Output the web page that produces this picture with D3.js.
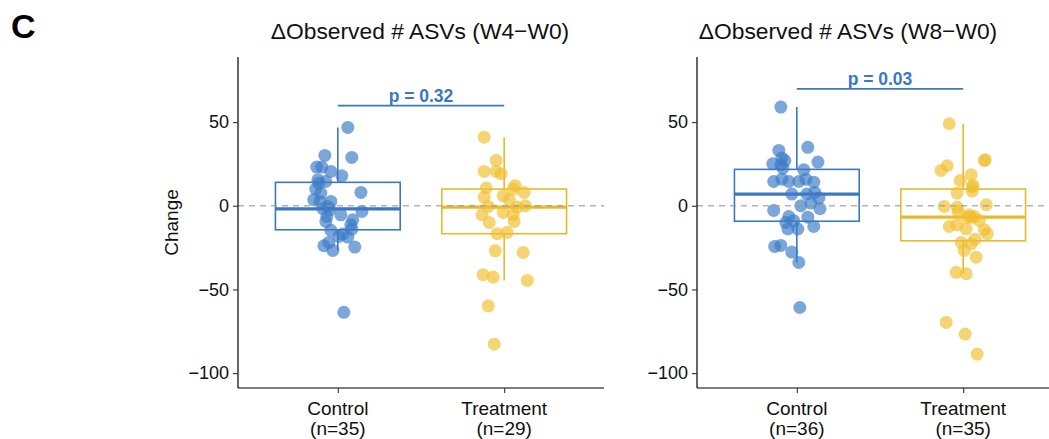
<!DOCTYPE html>
<html><head><meta charset="utf-8">
<script src="https://cdn.jsdelivr.net/npm/d3@7"></script>
<style>body{margin:0;background:#fff} svg{display:block}</style>
</head><body><svg id="c" width="1049" height="439"></svg>
<script>
// ---------- data ----------
const categories = ["Control", "Treatment"];
const panelTitles = ["\u0394Observed # ASVs (W4\u2212W0)", "\u0394Observed # ASVs (W8\u2212W0)"];
const nLabels = [["(n=35)", "(n=29)"], ["(n=36)", "(n=35)"]];
const pLabels = ["p = 0.32", "p = 0.03"];
const pBarValues = [59.8, 69.8];
const yTicks = [-100, -50, 0, 50];
const yDomain = [-108.9, 88.9];

// W4-W0
const w4Control = [-63.7,-26.7,-24.7,-23.9,-21.9,-18.7,-18.3,-16.9,-14.7,-14.0,-11.4,-9.4,-8.4,-6.4,-5.4,-3.4,-2.4,-1.8,-0.4,2.6,2.6,3.6,7.6,8.0,10.0,13.5,14.5,15.5,17.9,20.5,23.1,23.1,28.9,30.1,46.8];
const w4ControlJitter = [0.036,-0.030,0.102,-0.084,-0.054,0.060,0.006,0.030,-0.042,0.084,0.078,-0.072,0.090,-0.066,0.018,0.145,-0.048,-0.090,-0.060,-0.042,-0.108,-0.145,-0.102,0.139,-0.133,-0.114,-0.072,-0.120,0.024,-0.042,-0.127,-0.096,0.084,-0.078,0.060];
const w4Treatment = [41.0,27.1,20.5,20.5,19.1,12.0,10.6,8.0,10.0,5.2,6.0,3.6,0,-0.4,-0.8,-4.0,-5.4,-5.4,-10.0,-9.4,-16.7,-15.9,-26.9,-27.9,-41.2,-42.6,-44.6,-59.8,-82.7];
const w4TreatmentJitter = [-0.120,-0.048,-0.120,-0.048,-0.018,0.066,-0.108,0.120,0.054,-0.120,-0.006,0.030,0.127,-0.096,0.078,-0.006,-0.133,0.054,-0.090,0.060,-0.042,0.018,-0.054,0.114,-0.127,-0.066,0.139,-0.096,-0.060];

// W8-W0
const w8Control = [59.0,34.9,33.1,28.5,26.1,25.1,24.5,21.5,14.5,15.9,14.5,14.5,15.9,14.1,7.0,4.6,0,1.6,-2.8,-1.8,-6.4,-6.8,-10.0,-12.4,-13.9,-13.9,-23.7,-24.3,-27.7,-33.9,-60.8,-9.0,7.0,8.0,22.5,27.0];
const w8ControlJitter = [-0.096,0.066,-0.108,-0.090,0.127,-0.145,-0.096,0.042,-0.139,-0.090,-0.048,0.012,0.054,0.102,-0.030,0.133,0.024,0.084,-0.139,0.139,-0.048,0.066,-0.066,0.102,0.006,-0.054,-0.096,-0.133,-0.030,0.012,0.018,-0.018,0.060,0.108,-0.084,-0.072];
const w8Treatment = [49.0,27.5,23.9,21.1,18.5,15.1,11.2,7.6,8.8,0.6,-0.4,-0.8,-3.4,-5.4,-6.4,-8.8,-12.4,-11.4,-13.9,-14.3,-16.7,-21.9,-22.7,-26.7,-30.7,-39.8,-40.6,-69.7,-76.7,-88.6,-20.0,-7.0,-6.8,12.0,27.0];
const w8TreatmentJitter = [-0.084,0.133,-0.096,-0.133,0.048,-0.018,0.054,-0.036,0.054,0.139,-0.114,-0.036,-0.030,0.036,0.066,0.096,-0.084,-0.036,0.018,0.127,0.145,-0.012,0.048,0.006,0.078,-0.042,0.018,-0.102,0.012,0.084,0.072,0.048,0.024,0.060,0.127];

const panelData = [
  [{v: w4Control, j: w4ControlJitter}, {v: w4Treatment, j: w4TreatmentJitter}],
  [{v: w8Control, j: w8ControlJitter}, {v: w8Treatment, j: w8TreatmentJitter}]
];

// ---------- layout / style ----------
const font = "'Liberation Sans', Arial, Helvetica, sans-serif";
const fill = ["#3D7CC9", "#F0C030"];
const stroke = ["#3A78C4", "#EAB92A"];
const panels = [
  {x0: 238, x1: 604, titleX: 420},
  {x0: 697, x1: 1063, titleX: 848}
];
const yTop = 57, yBot = 388;

const svg = d3.select("#c");
svg.append("rect").attr("width", 1049).attr("height", 439).attr("fill", "#fff");

svg.append("text").attr("x", 11).attr("y", 38).attr("font-family", font)
  .attr("font-weight", "bold").attr("font-size", 34).attr("fill", "#000").text("C");

const y = d3.scaleLinear().domain(yDomain).range([yBot, yTop]);

panels.forEach((P, pi) => {
  const g = svg.append("g");
  const x = d3.scalePoint().domain(categories).range([P.x0, P.x1]).padding(0.6);
  const step = x.step();

  // title
  g.append("text").attr("x", P.titleX).attr("y", 39).attr("text-anchor", "middle")
    .attr("font-family", font).attr("font-size", 22.8).attr("fill", "#111").text(panelTitles[pi]);

  // boxplots
  categories.forEach((cat, ci) => {
    const vals = panelData[pi][ci].v.slice().sort(d3.ascending);
    const q1 = d3.quantile(vals, 0.25), med = d3.quantile(vals, 0.5), q3 = d3.quantile(vals, 0.75);
    const iqr = q3 - q1;
    const lo = d3.min(vals.filter(v => v >= q1 - 1.5 * iqr));
    const hi = d3.max(vals.filter(v => v <= q3 + 1.5 * iqr));
    const cx = x(cat), bw = 0.75 * step;
    const bg = g.append("g").attr("stroke", stroke[ci]).attr("fill", "none");
    bg.append("line").attr("x1", cx).attr("x2", cx).attr("y1", y(q3)).attr("y2", y(hi)).attr("stroke-width", 1.6);
    bg.append("line").attr("x1", cx).attr("x2", cx).attr("y1", y(q1)).attr("y2", y(lo)).attr("stroke-width", 1.6);
    bg.append("rect").attr("x", cx - bw / 2).attr("width", bw).attr("y", y(q3)).attr("height", y(q1) - y(q3)).attr("stroke-width", 1.6);
    bg.append("line").attr("x1", cx - bw / 2).attr("x2", cx + bw / 2).attr("y1", y(med)).attr("y2", y(med)).attr("stroke-width", 3.2);
  });

  // points
  categories.forEach((cat, ci) => {
    const d = panelData[pi][ci];
    g.append("g").selectAll("circle").data(d.v).join("circle")
      .attr("cx", (v, i) => x(cat) + d.j[i] * step)
      .attr("cy", v => y(v))
      .attr("r", 6.5)
      .attr("fill", fill[ci]).attr("fill-opacity", 0.68);
  });

  // zero reference line
  g.append("line").attr("x1", P.x0).attr("x2", P.x1).attr("y1", y(0)).attr("y2", y(0))
    .attr("stroke", "#9a9a9a").attr("stroke-opacity", 0.75).attr("stroke-width", 1.6).attr("stroke-dasharray", "6,5");

  // p-value bracket
  g.append("line").attr("x1", x(categories[0])).attr("x2", x(categories[1]))
    .attr("y1", y(pBarValues[pi])).attr("y2", y(pBarValues[pi]))
    .attr("stroke", stroke[0]).attr("stroke-width", 1.8);
  g.append("text").attr("x", (x(categories[0]) + x(categories[1])) / 2).attr("y", y(pBarValues[pi]) - 4)
    .attr("text-anchor", "middle").attr("font-family", font).attr("font-weight", "bold")
    .attr("font-size", 17.5).attr("fill", stroke[0]).text(pLabels[pi]);

  // axes
  const yAxis = g.append("g").attr("transform", `translate(${P.x0},0)`)
    .call(d3.axisLeft(y).tickValues(yTicks).tickSize(5).tickPadding(4));
  yAxis.select(".domain").attr("d", `M0,${yTop}V${yBot}`).attr("stroke", "#000").attr("stroke-width", 1.2);
  yAxis.selectAll(".tick line").attr("stroke", "#333").attr("stroke-width", 1.1);
  yAxis.selectAll(".tick text").attr("font-family", font).attr("font-size", 18).attr("fill", "#111");

  const xAxis = g.append("g").attr("transform", `translate(0,${yBot})`)
    .call(d3.axisBottom(x).tickSize(5).tickPadding(4).tickFormat(""));
  xAxis.select(".domain").attr("d", `M${P.x0},0H${P.x1}`).attr("stroke", "#000").attr("stroke-width", 1.2);
  xAxis.selectAll(".tick line").attr("stroke", "#333").attr("stroke-width", 1.1);
  categories.forEach((cat, ci) => {
    const t = g.append("text").attr("text-anchor", "middle").attr("font-family", font)
      .attr("font-size", 19).attr("fill", "#111");
    t.append("tspan").attr("x", x(cat)).attr("y", 415).text(cat);
    t.append("tspan").attr("x", x(cat)).attr("y", 435).text(nLabels[pi][ci]);
  });

  if (pi === 0) {
    g.append("text").attr("transform", `translate(178,${(yTop + yBot) / 2}) rotate(-90)`)
      .attr("text-anchor", "middle").attr("font-family", font).attr("font-size", 19)
      .attr("fill", "#111").text("Change");
  }
});
</script></body></html>
